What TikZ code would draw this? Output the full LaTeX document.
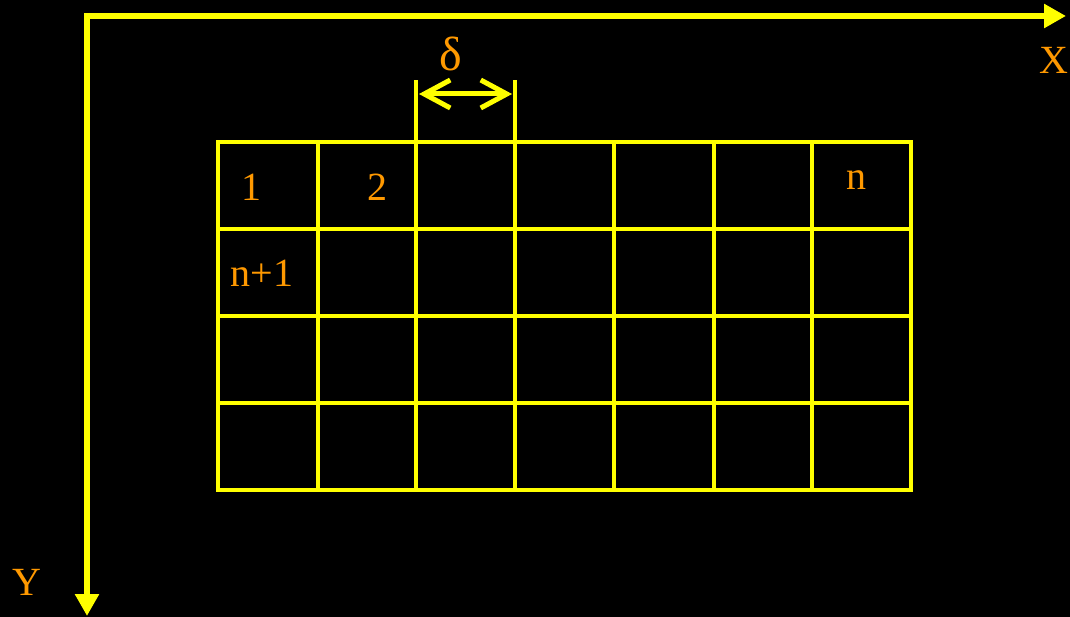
\documentclass[tikz,border=0pt]{standalone}
\usepackage{fontspec}
\setmainfont{Liberation Serif}
\usetikzlibrary{arrows.meta}
\definecolor{lineyellow}{RGB}{255,255,0}
\definecolor{textorange}{RGB}{255,153,0}
\tikzset{
  axisline/.style={draw=lineyellow, line width=5.5pt, -{Triangle[length=22pt,width=23pt]}},
  gridline/.style={draw=lineyellow, line width=4.5pt, line cap=rect},
  dimline/.style={draw=lineyellow, line width=5pt, {Straight Barb[length=26pt,width=28pt]}-{Straight Barb[length=26pt,width=28pt]}},
  lbl/.style={text=textorange, inner sep=0pt, font=\fontsize{40}{48}\selectfont},
}
\begin{document}
\begin{tikzpicture}[x=1pt,y=-1pt]
\fill[black] (0,0) rectangle (1070,617);
\useasboundingbox (0,0) rectangle (1070,617);
% axes
\coordinate (O) at (87,16);
\coordinate (Xend) at (1066,16);
\coordinate (Yend) at (87,616);
\draw[axisline] (84,16) -- (Xend);
\draw[axisline] (87,13) -- (Yend);
% grid
\foreach \x in {218,318,416,515,614,714,812,911} {
  \draw[gridline] (\x,142) -- (\x,490);
}
\foreach \y in {142,229,316,403,490} {
  \draw[gridline] (218,\y) -- (911,\y);
}
% dimension
\coordinate (d1) at (416,82);
\coordinate (d2) at (515,82);
\draw[gridline] (d1) -- (416,142);
\draw[gridline] (d2) -- (515,142);
\coordinate (a1) at (419,94);
\coordinate (a2) at (512,94);
\draw[dimline] (a1) -- (a2);
% labels
\node[lbl, font=\fontsize{48}{56}\selectfont] (delta) at (451,54) {δ};
\node[lbl] (c1) at (251,187) {1};
\node[lbl] (c2) at (377,187) {2};
\node[lbl] (cn) at (856,180) {n};
\node[lbl] (cn1) at (262,273) {n+1};
\node[lbl, anchor=east] (X) at (1069,60) {X};
\node[lbl] (Y) at (27,582) {Y};
\end{tikzpicture}
\end{document}
